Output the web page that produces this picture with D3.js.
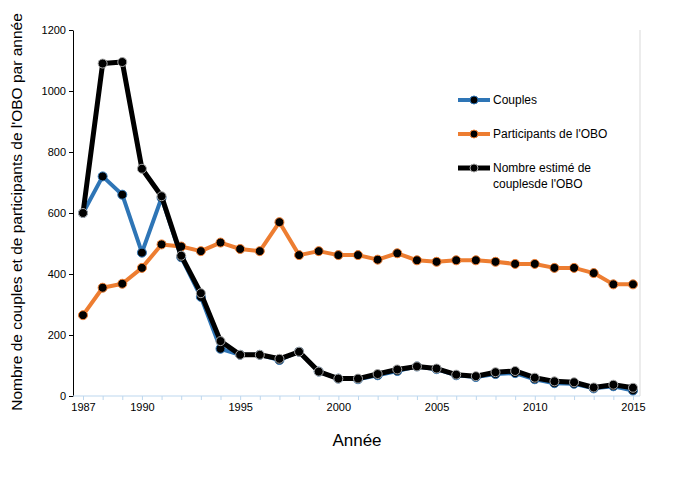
<!DOCTYPE html><html><head><meta charset="utf-8"><script src="https://cdn.jsdelivr.net/npm/d3@7"></script>
<style>body{margin:0;background:#fff}text{font-family:Arial,"Liberation Sans",sans-serif}</style></head><body><svg id="c" width="700" height="478"></svg><script>
const years=d3.range(1987,2016);
const couples=[600,720,660,470,650,455,325,155,135,135,118,145,80,57,55,68,82,97,88,68,62,72,75,55,42,40,25,32,18];
const participants=[265,355,368,420,497,490,475,503,482,475,570,462,475,462,462,447,468,445,440,445,445,440,433,433,420,420,403,366,366];
const estime=[600,1090,1095,745,655,460,337,180,135,135,122,145,80,57,57,72,87,97,90,70,65,78,82,60,48,45,28,37,27];
const xTicks=[1987,1990,1995,2000,2005,2010,2015];
const yTicks=[0,200,400,600,800,1000,1200];
const svg=d3.select("#c");
const x=d3.scaleLinear().domain([1987,2015]).range([83,633]);
const y=d3.scaleLinear().domain([0,1200]).range([396,30]);
svg.append("line").attr("x1",640).attr("x2",640).attr("y1",30).attr("y2",396).attr("stroke","#d9d9d9");
const ya=svg.append("g").attr("transform","translate(73,0)").call(d3.axisLeft(y).tickValues(yTicks).tickSize(4).tickSizeOuter(0).tickFormat(d3.format("d")));
ya.select(".domain").attr("stroke","#000");ya.selectAll("text").attr("font-size",11);
const xa=svg.append("g").attr("transform","translate(0,396)").call(d3.axisBottom(x).tickValues(years).tickSize(4).tickSizeOuter(0).tickFormat(d=>xTicks.includes(d)?d:""));
xa.select(".domain").attr("stroke","#bdd7ee").attr("d","M73,0H640");xa.selectAll(".tick line").attr("stroke","#bdd7ee");xa.selectAll("text").attr("font-size",11);
const series=[{v:couples,c:"#2e75b6",w:4},{v:participants,c:"#ed7d31",w:4},{v:estime,c:"#000",w:5}];
const line=d3.line().x((d,i)=>x(years[i])).y(d=>y(d));
series.forEach(s=>{svg.append("path").attr("d",line(s.v)).attr("fill","none").attr("stroke",s.c).attr("stroke-width",s.w).attr("stroke-linejoin","round");
svg.selectAll(null).data(s.v).enter().append("circle").attr("cx",(d,i)=>x(years[i])).attr("cy",d=>y(d)).attr("r",4.5).attr("fill","#000").attr("stroke",s.c==="#000"?"#aaa":s.c).attr("stroke-width",1);});
const leg=[{t:["Couples"],c:"#2e75b6",w:4,y:100},{t:["Participants de l'OBO"],c:"#ed7d31",w:4,y:134},{t:["Nombre estimé de","couplesde l'OBO"],c:"#000",w:5,y:168}];
leg.forEach(l=>{svg.append("line").attr("x1",458).attr("x2",490).attr("y1",l.y).attr("y2",l.y).attr("stroke",l.c).attr("stroke-width",l.w);
svg.append("circle").attr("cx",474).attr("cy",l.y).attr("r",4).attr("fill","#000").attr("stroke",l.c==="#000"?"#aaa":l.c);
l.t.forEach((t,i)=>svg.append("text").attr("x",493).attr("y",l.y+4+i*16).attr("font-size",12).text(t));});
svg.append("text").attr("x",357).attr("y",446).attr("text-anchor","middle").attr("font-size",17).text("Année");
svg.append("text").attr("transform","translate(22,212) rotate(-90)").attr("text-anchor","middle").attr("font-size",15.5).text("Nombre de couples et de participants de l'OBO par année");
</script></body></html>
